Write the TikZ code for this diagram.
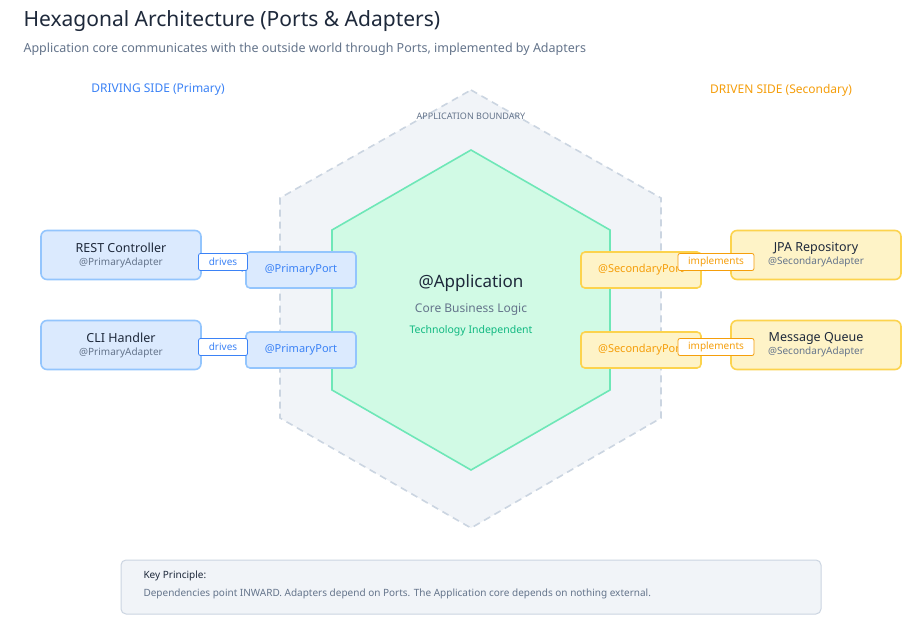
\documentclass[tikz,border=0pt]{standalone}
\usepackage{fontspec}
\setmainfont{Noto Sans}
\definecolor{bluefill}{HTML}{DBEAFE}
\definecolor{bluedraw}{HTML}{93C5FD}
\definecolor{bluetext}{HTML}{3B82F6}
\definecolor{yelfill}{HTML}{FEF3C7}
\definecolor{yeldraw}{HTML}{FCD34D}
\definecolor{yeltext}{HTML}{F59E0B}
\definecolor{greenfill}{HTML}{D1FAE5}
\definecolor{greendraw}{HTML}{6EE7B7}
\definecolor{greentext}{HTML}{10B981}
\definecolor{slate}{HTML}{CBD5E1}
\definecolor{bgfill}{HTML}{F1F4F8}
\definecolor{darktext}{HTML}{1E293B}
\definecolor{graytext}{HTML}{64748B}
\tikzset{
  adapter/.style={draw,line width=1.6pt,rounded corners=6pt,minimum width=160pt,minimum height=49pt,align=center,text=darktext},
  portbox/.style={draw,line width=1.6pt,rounded corners=4pt,minimum height=36pt,font=\fontsize{11}{13}\selectfont\bfseries},
  tag/.style={draw,fill=white,rounded corners=2pt,line width=0.8pt,inner sep=2pt,minimum height=17pt,font=\fontsize{10}{12}\selectfont},
}
\begin{document}
\begin{tikzpicture}[x=1pt,y=-1pt]
\useasboundingbox[fill=white] (0,0) rectangle (922,636);
% title
\node[anchor=west,text=darktext,font=\fontsize{21}{25}\selectfont\bfseries] (title) at (20,21) {Hexagonal Architecture (Ports \& Adapters)};
\node[anchor=west,text=graytext,font=\fontsize{12.5}{15}\selectfont] (subtitle) at (20,49) {Application core communicates with the outside world through Ports, implemented by Adapters};
\node[text=bluetext,font=\fontsize{12}{14}\selectfont\bfseries] (driving) at (158,90) {DRIVING SIDE (Primary)};
\node[text=yeltext,font=\fontsize{12}{14}\selectfont\bfseries] (driven) at (781,90) {DRIVEN SIDE (Secondary)};
% hexagons
\draw[slate,fill=bgfill,dashed,dash pattern=on 7pt off 5pt,line width=1.6pt] (471,90) -- (661,198) -- (661,418) -- (471,528) -- (280,418) -- (280,198) -- cycle;
\node[text=graytext,font=\fontsize{9}{11}\selectfont] (boundary) at (471,116) {APPLICATION BOUNDARY};
\draw[greendraw,fill=greenfill,line width=1.6pt] (471,150) -- (610,230) -- (610,390) -- (471,470) -- (332,390) -- (332,230) -- cycle;
\node[text=darktext,font=\fontsize{17}{20}\selectfont\bfseries] (app) at (471,283) {@Application};
\node[text=graytext,font=\fontsize{12}{14}\selectfont] (core) at (471,310) {Core Business Logic};
\node[text=greentext,font=\fontsize{10.5}{12}\selectfont] (indep) at (471,331) {Technology Independent};
% driving side
\node[adapter,fill=bluefill,draw=bluedraw] (rest) at (121,255) {{\fontsize{12.5}{15}\selectfont\bfseries REST Controller}\\[1pt]{\fontsize{10}{12}\selectfont\color{graytext}@PrimaryAdapter}};
\node[adapter,fill=bluefill,draw=bluedraw] (cli) at (121,345) {{\fontsize{12.5}{15}\selectfont\bfseries CLI Handler}\\[1pt]{\fontsize{10}{12}\selectfont\color{graytext}@PrimaryAdapter}};
\node[portbox,fill=bluefill,draw=bluedraw,text=bluetext,minimum width=110pt] (pport1) at (301,270) {@PrimaryPort};
\node[portbox,fill=bluefill,draw=bluedraw,text=bluetext,minimum width=110pt] (pport2) at (301,350) {@PrimaryPort};
\draw[->,bluetext,line width=1pt] (rest.east) -- (pport1.west);
\draw[->,bluetext,line width=1pt] (cli.east) -- (pport2.west);
\node[tag,draw=bluetext,text=bluetext,minimum width=49pt] (drv1) at (223,262) {drives};
\node[tag,draw=bluetext,text=bluetext,minimum width=49pt] (drv2) at (223,347) {drives};
% driven side
\node[portbox,fill=yelfill,draw=yeldraw,text=yeltext,minimum width=120pt] (sport1) at (641,270) {@SecondaryPort};
\node[portbox,fill=yelfill,draw=yeldraw,text=yeltext,minimum width=120pt] (sport2) at (641,350) {@SecondaryPort};
\node[adapter,fill=yelfill,draw=yeldraw,minimum width=170pt] (jpa) at (816,255) {{\fontsize{12.5}{15}\selectfont\bfseries JPA Repository}\\[1pt]{\fontsize{10}{12}\selectfont\color{graytext}@SecondaryAdapter}};
\node[adapter,fill=yelfill,draw=yeldraw,minimum width=170pt] (mq) at (816,345) {{\fontsize{12.5}{15}\selectfont\bfseries Message Queue}\\[1pt]{\fontsize{10}{12}\selectfont\color{graytext}@SecondaryAdapter}};
\draw[->,yeltext,line width=1pt] (jpa.west) -- (sport1.east);
\draw[->,yeltext,line width=1pt] (mq.west) -- (sport2.east);
\node[tag,draw=yeltext,text=yeltext,minimum width=76pt] (impl1) at (716,262) {implements};
\node[tag,draw=yeltext,text=yeltext,minimum width=76pt] (impl2) at (716,347) {implements};
% key principle
\node[draw=slate,fill=bgfill,line width=1pt,rounded corners=5pt,minimum width=700pt,minimum height=54pt] (keybox) at (471,587) {};
\node[anchor=west,text=darktext,font=\fontsize{10}{12}\selectfont\bfseries] (keyhead) at (140,576) {Key Principle:};
\node[anchor=west,text=graytext,font=\fontsize{10}{12}\selectfont] (keytext) at (140,594) {Dependencies point INWARD. Adapters depend on Ports. The Application core depends on nothing external.};
\end{tikzpicture}
\end{document}
